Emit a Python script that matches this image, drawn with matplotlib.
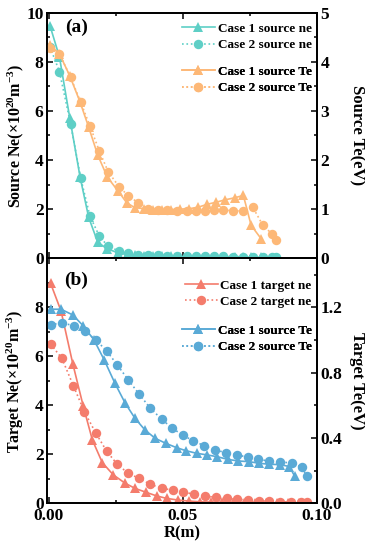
import matplotlib
matplotlib.use("Agg")
import matplotlib.pyplot as plt
from matplotlib.lines import Line2D
from matplotlib.ticker import MultipleLocator, FormatStrFormatter

# ================= fonts =================
plt.rcParams["font.family"] = ["Liberation Serif", "DejaVu Serif"]
plt.rcParams["font.weight"] = "bold"
plt.rcParams["mathtext.fontset"] = "custom"
plt.rcParams["mathtext.rm"] = "Liberation Serif:bold"
plt.rcParams["mathtext.it"] = "Liberation Serif:bold"
plt.rcParams["mathtext.bf"] = "Liberation Serif:bold"

# ================= data: (a) source =================
r_src_c1 = [0.0005, 0.0040, 0.0079, 0.0117, 0.0149, 0.0183, 0.0219, 0.0260, 0.0291, 0.0321,
            0.0356, 0.0390, 0.0423, 0.0456, 0.0490, 0.0525, 0.0558, 0.0592, 0.0624, 0.0658,
            0.0693, 0.0726, 0.0755, 0.0792]
ne_src_c1 = [9.46, 8.20, 5.69, 3.31, 1.67, 0.65, 0.38, 0.22, 0.15, 0.12,
             0.10, 0.09, 0.08, 0.08, 0.07, 0.07, 0.06, 0.06, 0.05, 0.05,
             0.05, 0.05, 0.04, 0.04]
te_src_c1 = [4.34, 4.16, 3.71, 3.18, 2.67, 2.10, 1.65, 1.36, 1.13, 1.03,
             1.01, 0.99, 0.99, 0.99, 1.00, 1.01, 1.04, 1.10, 1.14, 1.19,
             1.23, 1.28, 0.67, 0.40]

r_src_c2 = [0.0005, 0.0040, 0.0082, 0.0119, 0.0154, 0.0189, 0.0222, 0.0262, 0.0297, 0.0334,
            0.0372, 0.0408, 0.0441, 0.0479, 0.0515, 0.0549, 0.0583, 0.0618, 0.0651, 0.0689,
            0.0726, 0.0761, 0.0799, 0.0832, 0.0848]
ne_src_c2 = [8.60, 7.60, 5.46, 3.28, 1.71, 0.90, 0.48, 0.30, 0.20, 0.15,
             0.13, 0.12, 0.11, 0.10, 0.10, 0.09, 0.09, 0.08, 0.08, 0.07,
             0.07, 0.07, 0.06, 0.05, 0.05]
te_src_c2 = [4.27, 4.16, 3.68, 3.18, 2.69, 2.18, 1.76, 1.46, 1.27, 1.13,
             1.01, 0.99, 0.98, 0.97, 0.97, 0.96, 0.97, 0.99, 0.99, 0.96,
             0.97, 1.04, 0.67, 0.50, 0.38]

# ================= data: (b) target =================
r_tne_c1 = [0.0007, 0.0046, 0.0090, 0.0129, 0.0163, 0.0200, 0.0241, 0.0285, 0.0322, 0.0363,
            0.0403, 0.0440, 0.0484, 0.0524, 0.0565, 0.0606, 0.0647, 0.0688, 0.0729, 0.0770,
            0.0810, 0.0852, 0.0893, 0.0934]
ne_tgt_c1 = [8.98, 7.85, 5.69, 3.96, 2.58, 1.66, 1.16, 0.82, 0.61, 0.45,
             0.30, 0.20, 0.13, 0.09, 0.06, 0.05, 0.04, 0.03, 0.03, 0.02,
             0.02, 0.02, 0.02, 0.02]

r_tne_c2 = [0.0007, 0.0049, 0.0092, 0.0133, 0.0175, 0.0216, 0.0256, 0.0297, 0.0337, 0.0378,
            0.0422, 0.0463, 0.0502, 0.0542, 0.0583, 0.0624, 0.0664, 0.0704, 0.0745, 0.0785,
            0.0823, 0.0863, 0.0904, 0.0940, 0.0963]
ne_tgt_c2 = [6.50, 5.92, 4.80, 3.74, 2.88, 2.13, 1.59, 1.22, 1.02, 0.78,
             0.61, 0.54, 0.45, 0.38, 0.30, 0.24, 0.20, 0.16, 0.13, 0.11,
             0.09, 0.07, 0.05, 0.04, 0.04]

r_tte_c1 = [0.0007, 0.0046, 0.0090, 0.0129, 0.0169, 0.0207, 0.0247, 0.0285, 0.0322, 0.0359,
            0.0397, 0.0437, 0.0478, 0.0512, 0.0552, 0.0592, 0.0629, 0.0668, 0.0707, 0.0747,
            0.0786, 0.0823, 0.0863, 0.0898, 0.0917]
te_tgt_c1 = [1.188, 1.188, 1.153, 1.086, 1.000, 0.878, 0.735, 0.614, 0.520, 0.449,
             0.398, 0.367, 0.340, 0.322, 0.306, 0.296, 0.285, 0.269, 0.259, 0.255,
             0.245, 0.239, 0.237, 0.225, 0.167]

r_tte_c2 = [0.0007, 0.0049, 0.0094, 0.0135, 0.0176, 0.0216, 0.0256, 0.0297, 0.0338, 0.0379,
            0.0422, 0.0461, 0.0500, 0.0540, 0.0580, 0.0621, 0.0662, 0.0704, 0.0743, 0.0782,
            0.0822, 0.0863, 0.0907, 0.0944, 0.0963]
te_tgt_c2 = [1.092, 1.106, 1.086, 1.055, 1.000, 0.933, 0.847, 0.755, 0.667, 0.582,
             0.514, 0.459, 0.418, 0.381, 0.353, 0.326, 0.310, 0.296, 0.282, 0.269,
             0.259, 0.255, 0.245, 0.221, 0.167]

# ================= style =================
CYAN = "#5ECFC6"
ORANGE = "#FDB877"
RED = "#F47C6C"
BLUE = "#5AAAD6"
MS = 6.8
LW = 1.2
FS_TICK = 12.5
FS_LAB = 12
FS_YLAB = 11.5
FS_LEG = 9.5


def style_axes(ax, twin, ymaj, ymin, tmaj, tmin):
    ax.xaxis.set_major_locator(MultipleLocator(0.05))
    ax.xaxis.set_minor_locator(MultipleLocator(0.025))
    ax.yaxis.set_major_locator(MultipleLocator(ymaj))
    ax.yaxis.set_minor_locator(MultipleLocator(ymin))
    twin.yaxis.set_major_locator(MultipleLocator(tmaj))
    twin.yaxis.set_minor_locator(MultipleLocator(tmin))
    for a in (ax, twin):
        a.tick_params(which="both", direction="in", labelsize=FS_TICK, width=1.1, pad=2.5)
        a.tick_params(which="major", length=4.5)
        a.tick_params(which="minor", length=2.5)
        for s in a.spines.values():
            s.set_linewidth(1.3)
    ax.tick_params(which="both", top=True, right=False)
    ax.tick_params(axis="x", pad=3.5)
    twin.tick_params(which="both", left=False, right=True)


def add_legend(ax, handles, anchor):
    leg = ax.legend(handles=handles, loc="upper right", bbox_to_anchor=anchor,
                    frameon=False, handlelength=2.5,
                    handletextpad=0.2, labelspacing=0.3, borderaxespad=0.0,
                    prop={"family": "Liberation Serif", "weight": "bold", "size": FS_LEG})
    ax.add_artist(leg)


fig = plt.figure(figsize=(3.65, 5.5), dpi=100)
ax1 = fig.add_axes([0.129, 0.5304, 0.739, 0.4467])
ax2 = fig.add_axes([0.129, 0.0849, 0.739, 0.4455], sharex=ax1)
tw1 = ax1.twinx()
tw2 = ax2.twinx()

# ---- (a) source ----
ax1.plot(r_src_c1, ne_src_c1, "-", marker="^", color=CYAN, ms=MS, lw=LW, mew=0)
ax1.plot(r_src_c2, ne_src_c2, ":", marker="o", color=CYAN, ms=MS, lw=LW, mew=0)
tw1.plot(r_src_c1, te_src_c1, "-", marker="^", color=ORANGE, ms=MS, lw=LW, mew=0)
tw1.plot(r_src_c2, te_src_c2, ":", marker="o", color=ORANGE, ms=MS, lw=LW, mew=0)

ax1.set_xlim(-0.0006, 0.1)
ax1.set_ylim(0, 10)
tw1.set_ylim(0, 5)
style_axes(ax1, tw1, 2, 1, 1, 0.5)
plt.setp(ax1.get_xticklabels(), visible=False)
ax1.set_ylabel("Source Ne(×10$^{20}$m$^{-3}$)", fontsize=FS_YLAB, fontweight="bold")
ax1.yaxis.set_label_coords(-0.078, 0.5)
tw1.set_ylabel("Source Te(eV)", fontsize=FS_LAB, fontweight="bold", rotation=270, va="center")
tw1.yaxis.set_label_coords(1.149, 0.5)
ax1.text(0.109, 0.938, "(a)", transform=ax1.transAxes, fontsize=14, fontweight="bold",
         ha="center", va="center")

add_legend(tw1, [
    Line2D([], [], ls="-", marker="^", color=CYAN, ms=MS, lw=LW, mew=0, label="Case 1 source ne"),
    Line2D([], [], ls=":", marker="o", color=CYAN, ms=MS, lw=LW, mew=0, label="Case 2 source ne"),
], (1.0, 0.98))
add_legend(tw1, [
    Line2D([], [], ls="-", marker="^", color=ORANGE, ms=MS, lw=LW, mew=0, label="Case 1 source Te"),
    Line2D([], [], ls=":", marker="o", color=ORANGE, ms=MS, lw=LW, mew=0, label="Case 2 source Te"),
], (1.0, 0.805))

# ---- (b) target ----
ax2.plot(r_tne_c1, ne_tgt_c1, "-", marker="^", color=RED, ms=MS, lw=LW, mew=0)
ax2.plot(r_tne_c2, ne_tgt_c2, ":", marker="o", color=RED, ms=MS, lw=LW, mew=0)
tw2.plot(r_tte_c1, te_tgt_c1, "-", marker="^", color=BLUE, ms=MS, lw=LW, mew=0)
tw2.plot(r_tte_c2, te_tgt_c2, ":", marker="o", color=BLUE, ms=MS, lw=LW, mew=0)

ax2.set_ylim(0, 10)
tw2.set_ylim(0, 1.5)
style_axes(ax2, tw2, 2, 1, 0.4, 0.2)
ax2.set_yticks([0, 2, 4, 6, 8])
ax2.xaxis.set_major_formatter(FormatStrFormatter("%.2f"))
ax2.set_xlabel("R(m)", fontsize=FS_LAB, fontweight="bold", labelpad=1)
ax2.set_ylabel("Target Ne(×10$^{20}$m$^{-3}$)", fontsize=FS_YLAB, fontweight="bold")
ax2.yaxis.set_label_coords(-0.078, 0.5)
tw2.set_ylabel("Target Te(eV)", fontsize=FS_LAB, fontweight="bold", rotation=270, va="center")
tw2.yaxis.set_label_coords(1.149, 0.5)
ax2.text(0.109, 0.911, "(b)", transform=ax2.transAxes, fontsize=14, fontweight="bold",
         ha="center", va="center")

add_legend(tw2, [
    Line2D([], [], ls="-", marker="^", color=RED, ms=MS, lw=LW, mew=0, label="Case 1 target ne"),
    Line2D([], [], ls=":", marker="o", color=RED, ms=MS, lw=LW, mew=0, label="Case 2 target ne"),
], (1.0, 0.935))
add_legend(tw2, [
    Line2D([], [], ls="-", marker="^", color=BLUE, ms=MS, lw=LW, mew=0, label="Case 1 source Te"),
    Line2D([], [], ls=":", marker="o", color=BLUE, ms=MS, lw=LW, mew=0, label="Case 2 source Te"),
], (1.0, 0.75))

fig.savefig("out.png", dpi=100)
